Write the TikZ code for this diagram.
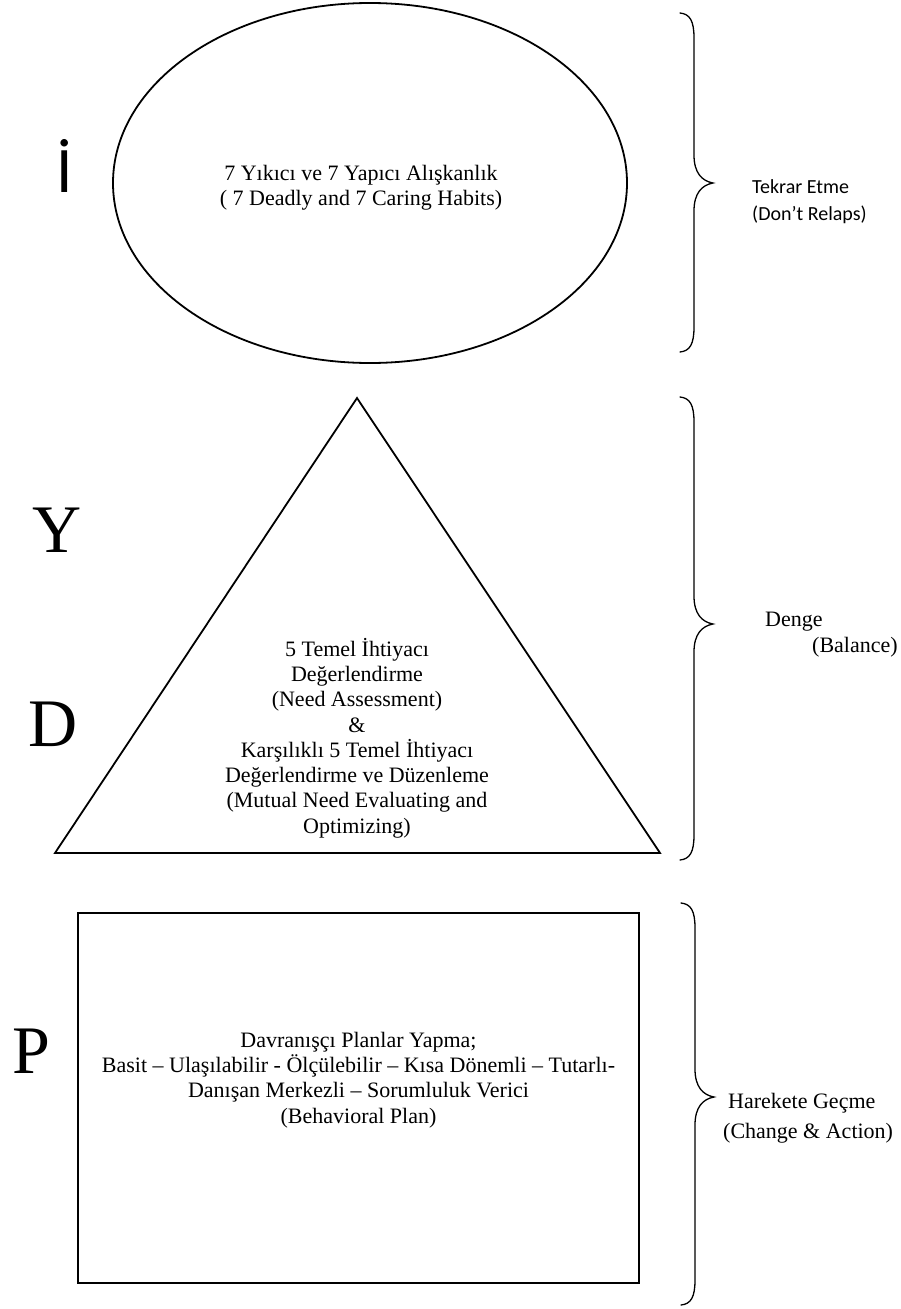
\documentclass[tikz,border=0pt]{standalone}
\usepackage{fontspec}
\setmainfont{Liberation Serif}
\newfontfamily\calfont{Carlito}
\usetikzlibrary{shapes.geometric}

% side brace: x, top y, tip y, bottom y (picture units, y downwards)
\newcommand{\sidebrace}[4]{%
  \draw[bracestyle] (#1,#2) .. controls (#1+10,#2+1) and (#1+14,#2+8) .. (#1+14,#2+25)
    -- (#1+14,#3-28) .. controls (#1+14,#3-10) and (#1+22,#3-2) .. (#1+33,#3)
    .. controls (#1+22,#3+2) and (#1+14,#3+10) .. (#1+14,#3+28)
    -- (#1+14,#4-25) .. controls (#1+14,#4-8) and (#1+10,#4-1) .. (#1,#4);}

\begin{document}
\begin{tikzpicture}[x=1pt,y=-1pt,
    shapeline/.style={draw,line width=1.8pt},
    bracestyle/.style={line width=1.3pt,line cap=round},
    bodytext/.style={align=center,font=\fontsize{22}{25.3}\selectfont,inner sep=0pt},
    bigletter/.style={font=\fontsize{68}{68}\selectfont,inner sep=0pt,anchor=base},
    sidetext/.style={font=\fontsize{22}{25}\selectfont,inner sep=0pt,anchor=west},
    caltext/.style={font=\calfont\fontsize{20}{24}\selectfont,inner sep=0pt,anchor=west}]
    \useasboundingbox (0,0) rectangle (901,1309);
    \fill[white] (0,0) rectangle (901,1309);

    % ellipse
    \node[shapeline,ellipse,minimum width=514pt,minimum height=360pt] (habits) at (370,183) {};
    \node[bodytext] (habitstext) at (361,188)
      {7 Yıkıcı ve 7 Yapıcı Alışkanlık\\( 7 Deadly and 7 Caring Habits)};

    % triangle
    \coordinate (apex) at (357,398);
    \coordinate (baseL) at (55,853);
    \coordinate (baseR) at (660,853);
    \draw[shapeline,line join=miter] (apex) -- (baseL) -- (baseR) -- cycle;
    \node[bodytext] (needs) at (357,738)
      {5 Temel İhtiyacı\\Değerlendirme\\(Need Assessment)\\\&\\Karşılıklı 5 Temel İhtiyacı\\Değerlendirme ve Düzenleme\\(Mutual Need Evaluating and\\Optimizing)};

    % rectangle
    \node[shapeline,line width=2.2pt,minimum width=561pt,minimum height=370pt] (plan) at (358.5,1098) {};
    \node[bodytext] (plantext) at (358.5,1080)
      {Davranışçı Planlar Yapma;\\Basit – Ulaşılabilir - Ölçülebilir – Kısa Dönemli – Tutarlı-\\Danışan Merkezli – Sorumluluk Verici\\(Behavioral Plan)};

    % letters on the left
    \node[inner sep=0pt,anchor=base,font=\calfont\fontsize{65}{65}\selectfont] (letI) at (65,192) {İ};
    \node[bigletter] (letY) at (57,552) {Y};
    \node[bigletter] (letD) at (53,746) {D};
    \node[bigletter] (letP) at (31,1073) {P};

    % braces
    \sidebrace{680}{13}{183}{352}
    \sidebrace{680}{397}{624}{860}
    \sidebrace{681}{903}{1097}{1305}

    % texts on the right
    \node[caltext] (repeat) at (752,187) {Tekrar Etme};
    \node[caltext] (relaps) at (752,215) {(Don’t Relaps)};
    \node[sidetext] (denge) at (765,622) {Denge};
    \node[sidetext] (balance) at (812,647) {(Balance)};
    \node[sidetext] (action) at (728,1103) {Harekete Geçme};
    \node[sidetext] (change) at (723,1133) {(Change \& Action)};
\end{tikzpicture}
\end{document}
